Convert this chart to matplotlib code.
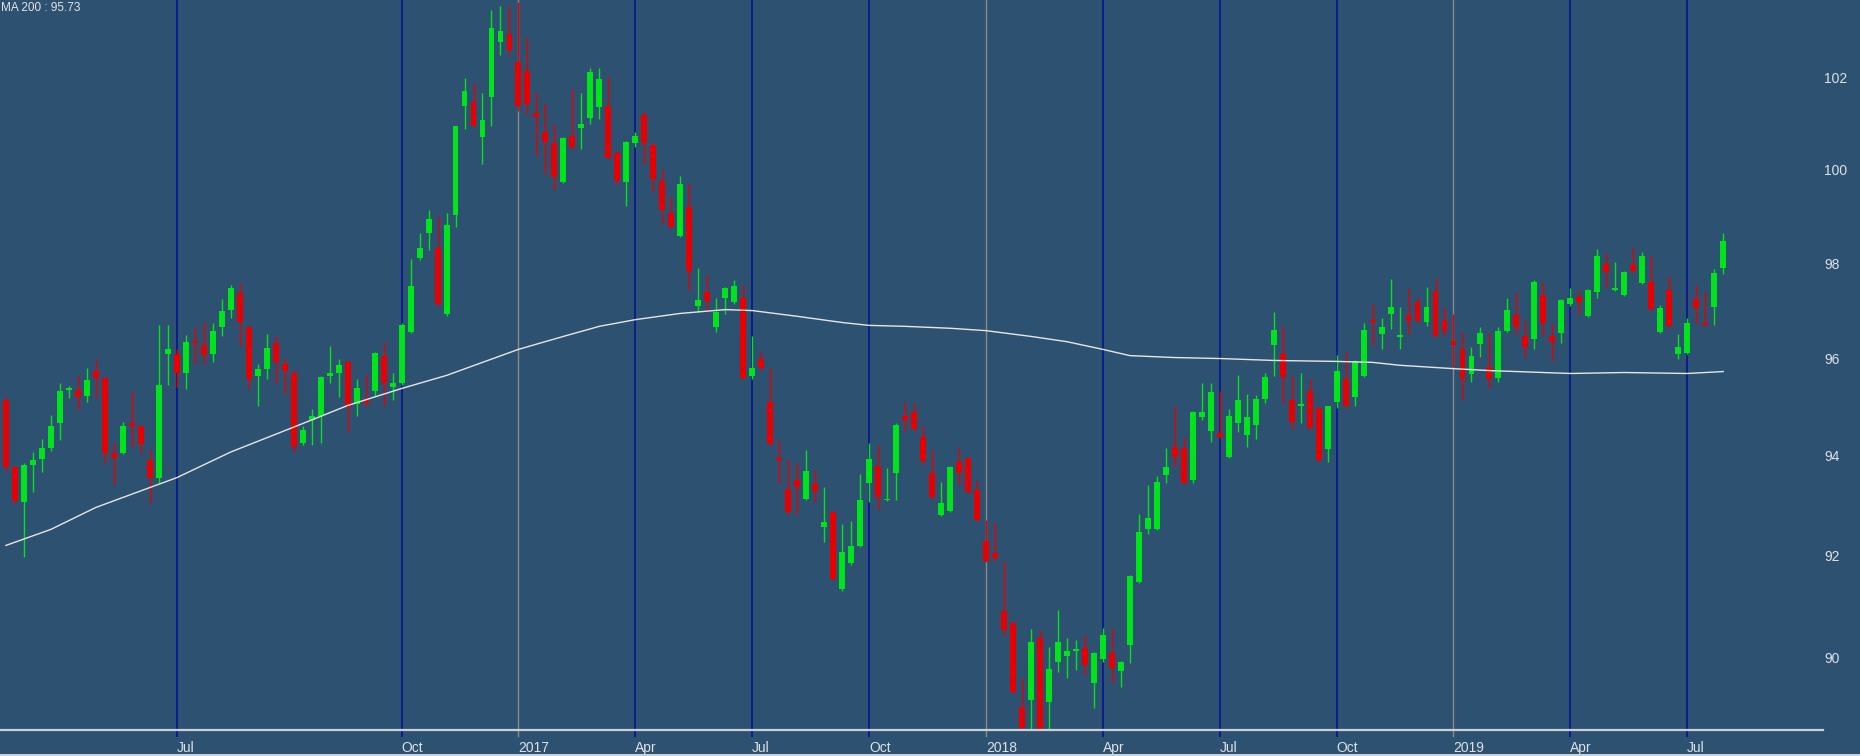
#!/usr/bin/env python3
import numpy as np
import matplotlib
matplotlib.use("Agg")
import matplotlib.pyplot as plt
import matplotlib.transforms as mtransforms

# weekly candles
opens = [95.15, 93.78, 93.06, 93.82, 93.94, 94.16, 94.68, 95.34, 95.34, 95.22,
         95.75, 95.59, 94.06, 94.06, 94.68, 94.6, 93.92, 93.56, 96.1, 96.1,
         95.71, 96.35, 96.29, 96.1, 96.65, 97.02, 97.37, 96.65, 95.63, 95.79,
         96.33, 95.88, 95.69, 94.27, 94.74, 94.81, 95.63, 95.69, 95.92, 95.07,
         95.15, 95.32, 96.06, 95.42, 95.5, 96.56, 98.1, 98.63, 98.32, 96.92,
         99.02, 101.38, 101.48, 100.71, 101.59, 102.8, 102.97, 102.35, 102.15, 101.23,
         100.82, 100.58, 99.74, 100.73, 100.9, 101.12, 101.36, 101.38, 100.37, 99.74,
         100.58, 101.18, 100.54, 99.76, 99.07, 98.58, 99.2, 97.1, 97.38, 96.65,
         97.27, 97.19, 97.27, 95.63, 95.98, 95.11, 93.96, 93.34, 93.52, 93.12,
         93.44, 92.56, 92.86, 91.33, 91.84, 92.18, 93.46, 93.8, 93.1, 93.66,
         94.81, 94.9, 94.39, 93.66, 92.8, 92.88, 93.88, 93.96, 93.32, 92.28,
         92.04, 90.91, 90.67, 89.03, 89.17, 90.37, 89.13, 89.9, 90.02, 90.12,
         90.18, 89.49, 89.96, 90.08, 89.73, 90.24, 91.47, 92.52, 92.52, 93.62,
         94.19, 94.16, 93.52, 94.79, 94.5, 94.46, 93.98, 94.68, 94.43, 94.64,
         95.17, 96.29, 96.1, 95.15, 95.03, 95.32, 94.97, 94.14, 95.11, 95.57,
         95.2, 95.63, 96.81, 96.5, 96.92, 96.44, 96.9, 97.19, 96.77, 97.42,
         96.81, 96.37, 96.19, 95.67, 96.31, 95.83, 95.59, 96.58, 96.9, 96.46,
         96.4, 97.33, 96.46, 96.54, 97.14, 97.29, 96.88, 97.38, 97.98, 97.44,
         97.33, 97.96, 97.58, 97.61, 96.56, 97.44, 96.1, 96.12, 97.25, 96.75,
         97.08, 97.9]
highs = [95.2, 93.8, 93.86, 94.08, 94.35, 94.83, 95.5, 95.44, 95.63, 95.8,
         95.98, 95.62, 94.27, 94.7, 95.32, 94.62, 94.12, 96.69, 96.69, 96.19,
         96.48, 96.65, 96.77, 96.75, 97.24, 97.54, 97.58, 96.67, 95.88, 96.52,
         96.46, 96.02, 95.77, 94.6, 94.95, 95.63, 96.25, 95.98, 95.94, 95.57,
         95.67, 96.14, 96.35, 95.71, 96.75, 98.08, 98.65, 99.13, 99.0, 99.06,
         100.95, 102.0, 101.9, 101.68, 103.5, 103.6, 103.6, 103.7, 102.9, 101.7,
         101.46, 100.99, 100.7, 101.75, 101.68, 102.22, 102.22, 102.02, 100.4, 100.62,
         100.82, 101.25, 100.56, 100.02, 99.44, 99.87, 99.7, 97.9, 97.75, 97.27,
         97.5, 97.65, 97.54, 96.46, 96.14, 95.81, 94.33, 93.92, 93.86, 94.12,
         93.72, 93.38, 92.88, 92.62, 92.68, 93.64, 94.27, 94.23, 93.76, 94.68,
         95.11, 95.09, 94.6, 94.12, 93.48, 93.8, 94.19, 93.98, 93.52, 92.7,
         92.64, 91.88, 90.69, 89.59, 90.55, 90.53, 90.2, 90.93, 90.37, 90.33,
         90.43, 90.1, 90.57, 90.57, 89.92, 91.62, 92.82, 93.42, 93.6, 94.16,
         95.01, 94.39, 94.92, 95.5, 95.5, 95.32, 94.95, 95.65, 95.26, 95.24,
         95.71, 96.96, 96.67, 95.65, 95.71, 95.57, 94.99, 95.03, 96.08, 96.14,
         95.96, 96.73, 97.14, 96.85, 97.67, 97.08, 97.48, 97.29, 97.5, 97.69,
         97.08, 96.92, 96.56, 96.23, 96.65, 96.54, 96.65, 97.27, 97.38, 96.79,
         97.65, 97.61, 96.71, 97.25, 97.48, 97.42, 97.46, 98.3, 98.21, 98.02,
         97.83, 98.32, 98.23, 98.15, 97.12, 97.73, 96.5, 96.85, 97.54, 97.4,
         97.87, 98.63]
lows = [93.7, 93.04, 91.96, 93.28, 93.68, 94.1, 94.33, 95.18, 94.95, 95.11,
        95.18, 93.86, 93.42, 94.04, 94.19, 94.06, 93.04, 93.46, 95.46, 95.42,
        95.36, 95.88, 95.88, 95.92, 96.46, 96.85, 96.25, 95.36, 95.01, 95.57,
        95.5, 95.26, 94.08, 94.23, 94.23, 94.27, 95.5, 95.2, 94.5, 94.81,
        95.01, 95.22, 95.01, 95.15, 95.46, 96.54, 98.06, 98.28, 97.1, 96.88,
        98.76, 100.88, 100.93, 100.13, 100.95, 102.5, 102.5, 101.27, 101.2, 100.3,
        99.91, 99.55, 99.72, 100.45, 100.45, 100.99, 101.1, 100.22, 99.7, 99.22,
        100.5, 100.13, 99.52, 98.83, 98.74, 98.56, 97.44, 96.96, 97.0, 96.56,
        96.92, 97.14, 95.55, 95.57, 95.77, 94.23, 93.46, 92.82, 92.82, 93.1,
        93.06, 92.26, 91.52, 91.3, 91.82, 92.16, 93.06, 92.92, 93.08, 93.1,
        94.5, 94.52, 93.82, 93.12, 92.78, 92.86, 93.42, 93.26, 92.68, 91.86,
        91.88, 90.44, 89.3, 88.62, 88.62, 88.58, 88.6, 89.71, 89.59, 89.75,
        89.65, 89.01, 89.9, 89.49, 89.42, 89.88, 91.45, 92.42, 92.5, 93.46,
        93.78, 93.44, 93.46, 94.74, 94.29, 94.37, 93.96, 94.48, 94.19, 94.35,
        95.09, 95.63, 95.09, 94.54, 94.68, 94.54, 93.88, 93.88, 94.97, 95.0,
        95.01, 95.61, 96.29, 96.19, 96.62, 96.19, 96.5, 96.77, 96.67, 96.44,
        96.46, 95.83, 95.15, 95.52, 96.04, 95.4, 95.52, 96.56, 96.5, 96.04,
        96.19, 96.46, 95.94, 96.33, 97.1, 96.92, 96.86, 97.27, 97.5, 97.42,
        97.31, 97.81, 97.56, 97.02, 96.54, 96.65, 95.98, 96.1, 96.71, 96.67,
        96.69, 97.77]
closes = [93.78, 93.08, 93.82, 93.92, 94.16, 94.62, 95.32, 95.38, 95.2, 95.55,
          95.59, 94.06, 93.96, 94.6, 94.6, 94.25, 93.56, 95.46, 96.19, 95.69,
          96.35, 96.33, 96.08, 96.58, 97.0, 97.48, 96.77, 95.57, 95.79, 96.21,
          95.92, 95.75, 94.19, 94.52, 94.81, 95.61, 95.69, 95.86, 94.99, 95.38,
          95.09, 96.12, 95.5, 95.5, 96.69, 97.52, 98.32, 98.93, 97.13, 98.8,
          100.95, 101.72, 100.95, 101.08, 103.1, 103.04, 102.62, 101.38, 101.42, 101.14,
          100.6, 99.85, 100.69, 100.5, 100.99, 102.13, 101.98, 100.26, 99.76, 100.6,
          100.73, 100.58, 99.8, 99.14, 98.76, 99.7, 97.83, 97.23, 97.21, 96.98,
          97.48, 97.52, 95.59, 95.81, 95.81, 94.25, 93.92, 92.86, 93.38, 93.7,
          93.3, 92.66, 91.54, 92.06, 92.18, 93.1, 93.94, 93.16, 93.12, 94.64,
          94.74, 94.54, 93.9, 93.16, 93.04, 93.78, 93.66, 93.28, 92.7, 91.88,
          91.94, 90.53, 89.33, 88.64, 90.29, 88.6, 89.77, 90.29, 90.12, 90.14,
          89.84, 90.08, 90.43, 89.79, 89.9, 91.6, 92.46, 92.74, 93.48, 93.78,
          93.98, 93.46, 94.9, 94.9, 95.3, 94.39, 94.81, 95.15, 94.79, 95.17,
          95.61, 96.6, 95.61, 94.7, 95.04, 94.56, 93.92, 95.01, 95.75, 95.01,
          95.94, 96.6, 96.77, 96.65, 97.08, 96.48, 96.79, 96.79, 97.08, 96.46,
          96.58, 96.29, 95.57, 96.06, 96.54, 95.57, 96.58, 97.02, 96.65, 96.23,
          97.61, 96.75, 96.35, 97.23, 97.27, 97.19, 97.44, 98.15, 97.81, 97.48,
          97.81, 97.83, 98.15, 97.04, 97.06, 96.67, 96.23, 96.75, 97.06, 96.69,
          97.79, 98.47]

# 200 moving average, read at a few candles
ma_idx = [0, 5, 10, 16, 19, 25, 33, 38, 44, 49, 53, 57, 62, 66, 70, 75, 80, 83,
          88, 93, 96, 100, 105, 109, 114, 118, 122, 125, 130, 135, 141, 148, 152,
          155, 161, 165, 174, 180, 187, 191]
ma_val = [92.2, 92.52, 92.96, 93.36, 93.56, 94.08, 94.66, 95.03, 95.38, 95.65,
          95.92, 96.19, 96.46, 96.67, 96.81, 96.94, 97.02, 97.0, 96.88, 96.75,
          96.69, 96.67, 96.63, 96.58, 96.46, 96.35, 96.19, 96.06, 96.02, 96.0,
          95.96, 95.94, 95.92, 95.86, 95.79, 95.75, 95.69, 95.71, 95.69, 95.73]

# quarter separators (candle index) and their labels
q_idx = [19, 44, 57, 70, 83, 96, 109, 122, 135, 148, 161, 174, 187]
q_labels = ["Jul", "Oct", "2017", "Apr", "Jul", "Oct", "2018", "Apr", "Jul",
            "Oct", "2019", "Apr", "Jul"]
y_ticks = [90, 92, 94, 96, 98, 100, 102]

BG = "#2D5170"
UP = "#00E41B"
DOWN = "#E80000"

W, H = 1860, 756
fig = plt.figure(figsize=(W / 100, H / 100), dpi=100, facecolor=BG)
ax = fig.add_axes([0, 26 / H, 1823 / W, 730 / H], facecolor=BG)
ax.set_yscale("log")

n = len(opens)
x = np.arange(n)
o = np.array(opens)
c = np.array(closes)
hi = np.array(highs)
lo = np.array(lows)
cols = np.where(c >= o, UP, DOWN)

# quarter / year lines behind everything, poking a little below the axis
for i, lab in zip(q_idx, q_labels):
    is_year = lab.isdigit()
    ax.axvline(i, ymin=-6 / 730, ymax=1, color="#8A8A8A" if is_year else "#0C1C8E",
               lw=1.0 if is_year else 1.4, zorder=1, clip_on=False)

ax.vlines(x, lo, hi, colors=cols, lw=1.0, zorder=3)
bottom = np.minimum(o, c)
height = np.maximum(np.abs(c - o), 0.035)
ax.bar(x, height, bottom=bottom, width=0.66, color=cols, edgecolor="none", zorder=4)

ax.plot(ma_idx, ma_val, color="#E6E6E6", lw=1.0, zorder=5)

ax.set_xlim(-0.667, 202.1)
ax.set_ylim(88.594, 103.734)

for s in ["top", "left", "right"]:
    ax.spines[s].set_visible(False)
ax.spines["bottom"].set_color("#C8D0D8")
ax.spines["bottom"].set_linewidth(1.6)
ax.spines["bottom"].set_zorder(6)

ax.set_xticks([])
ax.yaxis.tick_right()
ax.set_yticks(y_ticks)
ax.set_yticklabels([str(v) for v in y_ticks])
ax.yaxis.set_minor_locator(matplotlib.ticker.NullLocator())
ax.tick_params(axis="y", length=0, pad=1, labelsize=10, labelcolor="#DCE2E8")
for t in ax.get_yticklabels():
    t.set_family(["Liberation Sans", "DejaVu Sans"])

trans = mtransforms.blended_transform_factory(ax.transData, ax.transAxes)
for i, lab in zip(q_idx, q_labels):
    ax.text(i, -18 / 730, lab, transform=trans, ha="left", va="center",
            fontsize=10, color="#DCE2E8",
            family=["Liberation Sans Narrow", "Liberation Sans", "DejaVu Sans"])

fig.text(1 / W, 1 - 8 / H, "MA 200 : 95.73", ha="left", va="center",
         fontsize=8.5, color="#E4E4E4", family=["Liberation Sans", "DejaVu Sans"])

# light strip along the very bottom edge
fig.add_artist(plt.Rectangle((0, 0), 1, 2 / H, transform=fig.transFigure,
                             facecolor="#C8D0D8", edgecolor="none"))

fig.savefig("out.png", dpi=100, facecolor=BG)
